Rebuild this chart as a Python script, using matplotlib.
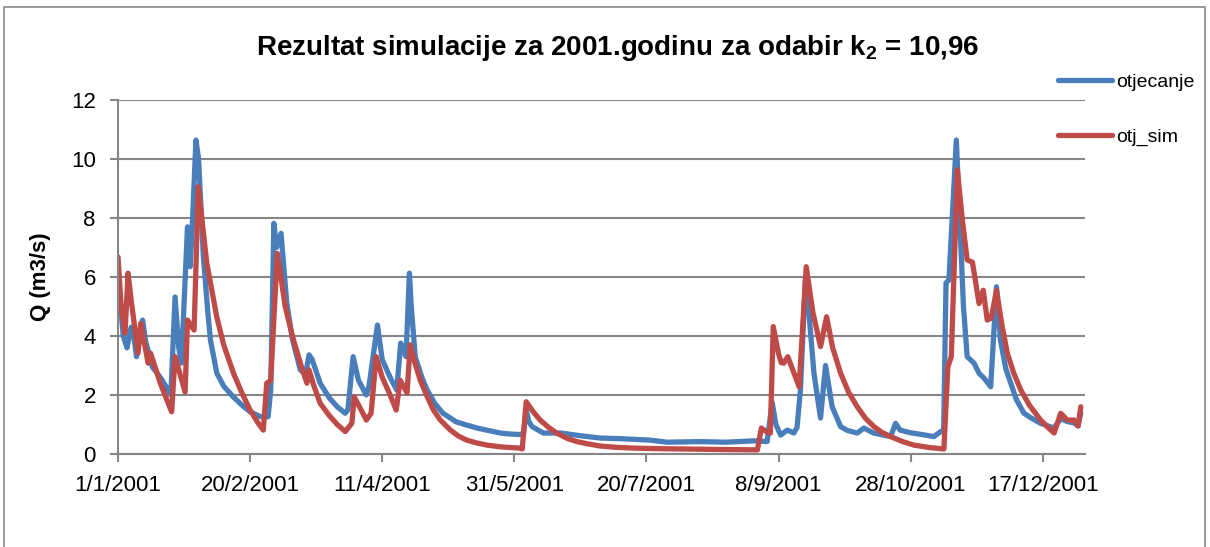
import matplotlib.pyplot as plt
from matplotlib.patches import Rectangle

plt.rcParams["font.family"] = ["Liberation Sans", "DejaVu Sans"]

# day of year (0 = 1/1/2001) and discharge
days_obs = [0, 1, 2, 3.4, 5, 6, 7, 9.3, 10.5, 13, 16, 19, 20, 21.6, 23, 24, 26.3, 27.3, 28,
            29.5, 30.5, 32.3, 34, 35, 37.4, 40, 43.7, 47, 50, 53.8, 56.8, 57.8, 59, 60, 61.7,
            63.9, 66, 69, 71, 72.3, 73.5, 76.5, 80, 83, 86, 87, 89, 91, 94, 95, 98.2, 100,
            103, 105.5, 107, 109, 110.3, 111, 112.5, 115, 117, 120, 123, 128, 132, 135.9, 140,
            144.7, 148, 152, 153.5, 154.5, 155.5, 156.7, 161, 167.7, 175, 182.6, 190, 201.5,
            207.8, 220, 230, 241.7, 245.7, 247.6, 249, 250.8, 253.3, 255.8, 257, 258.3, 260.2,
            261.5, 263.4, 265.9, 267.8, 270.3, 273.5, 276, 279.8, 282.3, 286, 292.4, 294.3,
            296, 300, 305, 308.8, 311.4, 312.5, 313.4, 314.5, 317.3, 318.9, 320, 321.4, 324,
            325.9, 328, 330.3, 332.5, 334, 336, 337.9, 340, 342.9, 346, 349.2, 352, 354.3,
            356.8, 359.3, 361.9, 363.4, 364.4]
q_obs = [6.2, 5.0, 4.0, 3.6, 4.3, 4.0, 3.3, 4.54, 3.8, 2.95, 2.6, 2.17, 2.0, 5.32, 3.6, 3.08,
         7.7, 6.35, 7.5, 10.64, 10.0, 6.7, 4.8, 3.86, 2.74, 2.3, 1.93, 1.65, 1.43, 1.27, 1.26,
         2.17, 7.82, 7.0, 7.48, 5.1, 3.9, 2.85, 2.7, 3.36, 3.2, 2.4, 1.9, 1.6, 1.38, 1.5, 3.3,
         2.5, 2.0, 2.3, 4.37, 3.2, 2.6, 2.17, 3.76, 3.3, 6.13, 5.0, 3.3, 2.6, 2.17, 1.7, 1.38,
         1.09, 0.98, 0.88, 0.8, 0.71, 0.68, 0.66, 0.7, 1.49, 1.1, 0.93, 0.71, 0.71, 0.62, 0.54,
         0.52, 0.47, 0.4, 0.42, 0.4, 0.45, 0.42, 1.75, 1.0, 0.64, 0.81, 0.71, 0.9, 2.17, 6.0,
         4.8, 2.74, 1.22, 3.0, 1.6, 0.93, 0.8, 0.71, 0.88, 0.71, 0.59, 1.04, 0.81, 0.72, 0.65,
         0.59, 0.76, 0.8, 5.8, 5.9, 10.64, 7.25, 5.0, 3.3, 3.08, 2.74, 2.55, 2.28, 5.67, 3.86,
         2.9, 2.4, 1.85, 1.38, 1.2, 1.04, 0.95, 0.88, 1.2, 1.1, 1.05, 0.95, 1.4]

days_sim = [0, 1.2, 2.65, 3.8, 5, 7.6, 8.6, 11.4, 12.3, 13.5, 16, 20.3, 21.6, 25.4, 26.3, 28.8,
            30.4, 33.6, 37.4, 40, 43.7, 47, 50, 53, 55, 56.3, 57.8, 60.3, 63.3, 66, 69, 71.5,
            72.3, 74, 76.5, 80, 83, 86, 88.5, 89.4, 92, 94, 95.8, 97.7, 100, 103, 105.3, 106.8,
            109.4, 110.6, 112, 114.4, 117, 119.4, 122, 125.8, 129, 132, 136, 139.7, 145, 152,
            153, 154.5, 157, 159.8, 163, 166, 170, 173.7, 178, 182.6, 188, 195, 205, 214, 230,
            242, 243.5, 246, 246.9, 248, 250, 251, 252, 253.5, 257.8, 260.5, 263, 265.9, 268.2,
            270.5, 273.5, 276.5, 279.8, 283, 286.1, 289, 292.4, 297, 301.3, 307, 312.6, 314.1,
            315.4, 317.7, 319.5, 321.4, 323.4, 325.9, 327.5, 329, 330.5, 332.5, 334.5, 336.6,
            339, 341.7, 345, 349.2, 352, 354.3, 356.8, 359.3, 361.9, 363.4, 364.4]
q_sim = [6.68, 5.0, 4.1, 6.13, 5.2, 3.42, 4.43, 3.08, 3.42, 3.1, 2.4, 1.43, 3.3, 2.1, 4.54, 4.2,
         9.06, 6.47, 4.64, 3.7, 2.74, 2.05, 1.49, 1.05, 0.81, 2.4, 2.5, 6.8, 5.0, 4.0, 3.08, 2.4,
         2.85, 2.35, 1.72, 1.3, 1.0, 0.76, 1.04, 1.93, 1.5, 1.15, 1.38, 3.3, 2.6, 2.0, 1.49, 2.5,
         2.07, 3.7, 3.2, 2.5, 1.95, 1.49, 1.15, 0.81, 0.6, 0.47, 0.37, 0.3, 0.24, 0.2, 0.17, 1.77,
         1.45, 1.15, 0.9, 0.71, 0.53, 0.42, 0.34, 0.27, 0.23, 0.2, 0.18, 0.17, 0.15, 0.14, 0.88,
         0.72, 0.71, 4.32, 3.4, 3.1, 3.08, 3.3, 2.28, 6.35, 4.8, 3.64, 4.65, 3.6, 2.74, 2.1, 1.6,
         1.2, 0.93, 0.74, 0.59, 0.42, 0.3, 0.22, 0.17, 2.96, 3.3, 9.63, 8.0, 6.58, 6.5, 5.1, 5.55,
         4.54, 4.6, 5.55, 4.4, 3.42, 2.75, 2.17, 1.65, 1.15, 0.9, 0.71, 1.38, 1.15, 1.15, 0.95,
         1.6]

tick_days = [0, 50, 100, 150, 200, 250, 300, 350]
tick_labels = ["1/1/2001", "20/2/2001", "11/4/2001", "31/5/2001",
               "20/7/2001", "8/9/2001", "28/10/2001", "17/12/2001"]

grid_col = "#868686"

fig = plt.figure(figsize=(12.1, 5.47), dpi=100)
ax = fig.add_axes([118 / 1210, 1 - 454 / 547, (1085 - 118) / 1210, (454 - 100) / 547])

ax.plot(days_obs, q_obs, color="#4A7EBB", lw=3.8, label="otjecanje",
        solid_joinstyle="round", solid_capstyle="round")
ax.plot(days_sim, q_sim, color="#BE4B48", lw=3.8, label="otj_sim",
        solid_joinstyle="round", solid_capstyle="round")

ax.set_xlim(0, 366)
ax.set_ylim(0, 12)
ax.set_yticks(range(0, 13, 2))
ax.set_xticks(tick_days)
ax.set_xticklabels(tick_labels)
ax.tick_params(labelsize=16, color=grid_col, width=1.5, length=6, direction="out")
ax.tick_params(axis="y", pad=10)
ax.tick_params(axis="x", pad=9)
ax.grid(axis="y", color=grid_col, lw=1.5)
ax.set_axisbelow(True)
for side in ["top", "right"]:
    ax.spines[side].set_visible(False)
for side in ["left", "bottom"]:
    ax.spines[side].set_color(grid_col)
    ax.spines[side].set_linewidth(1.5)

ax.set_ylabel("Q (m3/s)", fontsize=16, fontweight="bold", labelpad=14)

fig.text(618 / 1210, 1 - 48 / 547,
         r"Rezultat simulacije za 2001.godinu za odabir k$_\mathregular{2}$ = 10,96",
         ha="center", va="center", fontsize=20, fontweight="bold")

fig.legend(loc="upper left", bbox_to_anchor=(1040 / 1210, 1 - 56 / 547), frameon=False,
           fontsize=14, handlelength=2.8, handletextpad=0.2, labelspacing=1.9)

# outer chart border
fig.patches.append(Rectangle((4 / 1210, -0.05), 1201 / 1210, 1.05 - 7 / 547,
                             transform=fig.transFigure, fill=False,
                             edgecolor="#888888", lw=1.2))

plt.savefig("out.png", dpi=100)
